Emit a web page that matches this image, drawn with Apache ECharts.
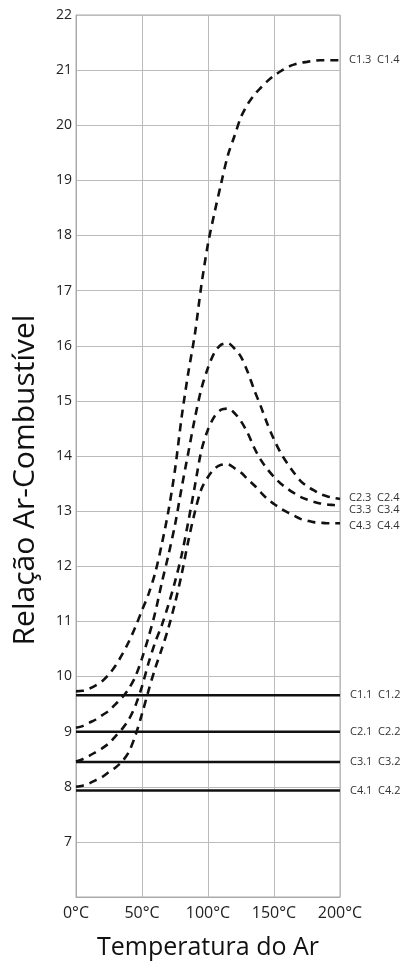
<!DOCTYPE html>
<html>
<head>
<meta charset="utf-8">
<script src="https://cdn.jsdelivr.net/npm/echarts@6/dist/echarts.min.js"></script>
<style>
    html, body { margin: 0; padding: 0; background: #fff; }
    #chart { width: 407px; height: 962px; }
</style>
</head>
<body>
<div id="chart"></div>
<script>
// temperatures (°C) shared by the dashed curves
var temps = [0, 5, 10, 15, 20, 25, 30, 35, 40, 45, 50, 55, 60, 65, 70, 75, 80, 85, 90, 95, 100,
    105, 110, 115, 120, 125, 130, 135, 140, 145, 150, 155, 160, 165, 170, 175, 180, 185, 190, 195, 200];

// dashed curves, air-fuel ratio
var curveC1 = [9.73, 9.74, 9.78, 9.84, 9.92, 10.04, 10.2, 10.4, 10.63, 10.9, 11.2, 11.5, 11.88, 12.4, 13.0, 13.75, 14.7, 15.5, 16.2, 17.1, 17.85,
    18.42, 18.95, 19.45, 19.8, 20.15, 20.38, 20.55, 20.68, 20.8, 20.9, 20.98, 21.05, 21.1, 21.13, 21.15, 21.17, 21.18, 21.18, 21.18, 21.18];
var curveC2 = [9.07, 9.1, 9.16, 9.22, 9.3, 9.38, 9.5, 9.62, 9.78, 10.0, 10.33, 10.72, 11.16, 11.7, 12.2, 12.75, 13.42, 14.05, 14.68, 15.22, 15.6,
    15.88, 16.02, 16.05, 15.95, 15.8, 15.53, 15.2, 14.9, 14.58, 14.3, 14.06, 13.87, 13.7, 13.55, 13.45, 13.38, 13.31, 13.27, 13.24, 13.22];
var curveC3 = [8.46, 8.5, 8.56, 8.63, 8.7, 8.79, 8.92, 9.05, 9.22, 9.47, 9.82, 10.25, 10.62, 10.93, 11.3, 11.72, 12.2, 12.8, 13.45, 14.1, 14.48,
    14.72, 14.84, 14.86, 14.78, 14.63, 14.42, 14.15, 13.93, 13.76, 13.62, 13.5, 13.41, 13.33, 13.26, 13.21, 13.17, 13.14, 13.12, 13.11, 13.1];
var curveC4 = [8.0, 8.02, 8.06, 8.12, 8.18, 8.27, 8.35, 8.46, 8.63, 8.93, 9.32, 9.75, 10.15, 10.5, 10.88, 11.33, 11.85, 12.45, 12.98, 13.4, 13.62,
    13.77, 13.84, 13.85, 13.78, 13.7, 13.58, 13.47, 13.34, 13.22, 13.13, 13.05, 12.98, 12.92, 12.86, 12.83, 12.8, 12.79, 12.78, 12.78, 12.78];
var curveLabels = ['C1.3  C1.4', 'C2.3  C2.4', 'C3.3  C3.4', 'C4.3  C4.4'];

// flat solid lines
var flatValues = [9.66, 9.0, 8.45, 7.93];
var flatLabels = ['C1.1  C1.2', 'C2.1  C2.2', 'C3.1  C3.2', 'C4.1  C4.2'];

var FONT = '"Open Sans", sans-serif';
var chart = echarts.init(document.getElementById('chart'), null, { renderer: 'canvas' });

var labelOffsets = [[0, 0], [0, -1], [0, 4], [0, 3]];
var series = [curveC1, curveC2, curveC3, curveC4].map(function(vals, k) {
    return {
        type: 'line',
        symbol: 'none',
        smooth: 0.3,
        silent: true,
        data: temps.map(function(t, i) { return [t, vals[i]]; }),
        lineStyle: { color: '#111', width: 2.6, type: [8, 6] },
        endLabel: {
            show: true,
            formatter: curveLabels[k],
            distance: 9,
            offset: labelOffsets[k],
            fontFamily: FONT,
            fontSize: 11,
            color: '#333'
        }
    };
});

flatValues.forEach(function(v, k) {
    series.push({
        type: 'line',
        symbol: 'none',
        silent: true,
        data: [[0, v], [200, v]],
        lineStyle: { color: '#111', width: 2.5 },
        endLabel: {
            show: true,
            formatter: flatLabels[k],
            distance: 10,
            fontFamily: FONT,
            fontSize: 11,
            color: '#333'
        }
    });
});

chart.setOption({
    animation: false,
    backgroundColor: '#fff',
    grid: {
        left: 76,
        right: 67,
        top: 15,
        bottom: 65,
        containLabel: false,
        outerBoundsMode: 'none',
        show: true,
        borderColor: '#aaa',
        borderWidth: 1
    },
    xAxis: {
        type: 'value',
        min: 0,
        max: 200,
        interval: 50,
        name: 'Temperatura do Ar',
        nameLocation: 'middle',
        nameGap: 38,
        nameTextStyle: { fontFamily: FONT, fontSize: 25, color: '#111' },
        axisLine: { lineStyle: { color: '#aaa' } },
        axisTick: { show: false },
        axisLabel: {
            formatter: '{value}°C',
            fontFamily: FONT,
            fontSize: 16,
            color: '#222',
            margin: 8
        },
        splitLine: { lineStyle: { color: '#bbb', width: 1 } }
    },
    yAxis: {
        type: 'value',
        min: 6,
        max: 22,
        interval: 1,
        name: 'Relação Ar-Combustível',
        nameLocation: 'middle',
        nameGap: 36,
        nameRotate: 90,
        nameTextStyle: { fontFamily: FONT, fontSize: 30, color: '#111', padding: [0, 48, 0, 0] },
        axisLine: { lineStyle: { color: '#aaa' } },
        axisTick: { show: false },
        axisLabel: {
            formatter: function(v) { return v === 6 ? '' : v; },
            fontFamily: FONT,
            fontSize: 14,
            color: '#222',
            margin: 4
        },
        splitLine: { lineStyle: { color: '#bbb', width: 1 } }
    },
    series: series
});
</script>
</body>
</html>
